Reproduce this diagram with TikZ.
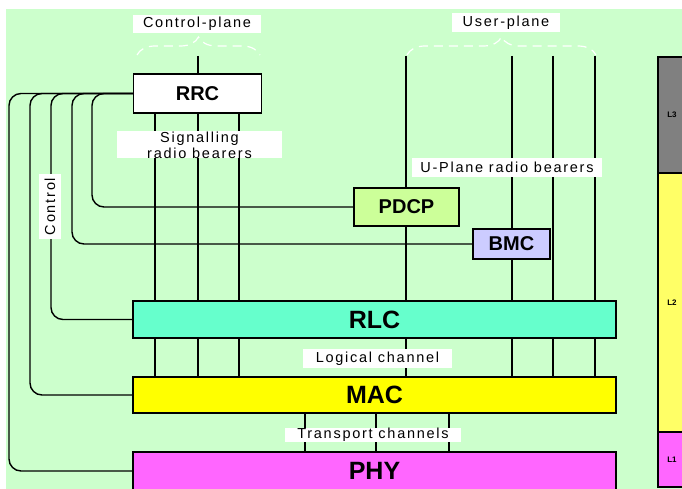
\documentclass[tikz,border=0pt]{standalone}
\usepackage{fontspec}
\setmainfont{Liberation Sans}
\newfontfamily\notelabelfont[LetterSpace=12]{Liberation Sans}
\usepackage{tikz}
\usetikzlibrary{decorations.pathreplacing, backgrounds, calc}
\definecolor{notebg}{RGB}{204, 255, 204}
\definecolor{noterlc}{RGB}{102, 255, 204}
\definecolor{notemac}{RGB}{255, 255, 0}
\definecolor{notephy}{RGB}{255, 102, 255}
\definecolor{notepdcp}{RGB}{204, 255, 153}
\definecolor{notebmc}{RGB}{204, 204, 255}
\definecolor{notegrey}{RGB}{128, 128, 128}
\definecolor{noteyellow}{RGB}{255, 255, 102}

\tikzset{
  smallbox/.style={draw, inner sep=0pt, font=\bfseries\fontsize{20}{20}\selectfont},
  layerbox/.style={draw, inner sep=0pt, minimum width=483pt, font=\bfseries\fontsize{25}{25}\selectfont},
  levelbox/.style={draw, inner sep=0pt, minimum width=28pt, font=\bfseries\fontsize{8}{8}\selectfont},
  notelabel/.style={fill=white, inner sep=0pt, align=center, font=\notelabelfont\fontsize{14.5}{16}\selectfont},
  bracedash/.style={white, line width=1.2pt, dash pattern=on 9pt off 6pt, decorate, decoration={brace, amplitude=18pt}},
}

\begin{document}
\begin{tikzpicture}[x=1pt, y=-1pt, line width=1.4pt]
    \useasboundingbox (0,0) rectangle (682,489);
    % sfondo
    \begin{scope}[on background layer]
        \fill[white] (0,0) rectangle (682,489);
        \fill[notebg] (6,9) rectangle (682,489);
    \end{scope}

    % blocchi
    \node[smallbox, fill=white, minimum width=128pt, minimum height=39pt] (rrc) at (197.5,93.5) {RRC};
    \node[smallbox, fill=notepdcp, minimum width=105pt, minimum height=38pt] (pdcp) at (406.5,207) {PDCP};
    \node[smallbox, fill=notebmc, minimum width=77pt, minimum height=30pt] (bmc) at (511.5,244) {BMC};
    \node[layerbox, fill=noterlc, minimum height=37pt] (rlc) at (374.5,319.5) {RLC};
    \node[layerbox, fill=notemac, minimum height=36pt] (mac) at (374.5,395) {MAC};
    \node[layerbox, fill=notephy, minimum height=38pt] (phy) at (374.5,471) {PHY};

    % livelli
    \node[levelbox, fill=notegrey, minimum height=116pt] (l3) at (672,115) {L3};
    \node[levelbox, fill=noteyellow, minimum height=259pt] (l2) at (672,302.5) {L2};
    \node[levelbox, fill=notephy, minimum height=55pt] (l1) at (672,459.5) {L1};

    % piani
    \draw[bracedash] (137,55) -- (260,55);
    \draw[bracedash] (407,55) -- (596,55);
    \node[notelabel, minimum width=128pt, minimum height=18pt] (cplabel) at (197,24) {Control-plane};
    \node[notelabel, minimum width=108pt, minimum height=19pt] (uplabel) at (506,22.5) {User-plane};

    \coordinate (cp) at (198,56);
    \foreach \x/\n in {406/u1, 512/u2, 553/u3, 595/u4}
        \coordinate (\n) at (\x,56);

    % connessioni
    \begin{scope}[on background layer]
    \begin{scope}[line width=1.4pt]
        \draw (cp) -- (cp |- rrc.north);
        \foreach \x in {155,198,239} {
            \draw (\x,0 |- rrc.south) -- (\x,0 |- rlc.north);
            \draw (\x,0 |- rlc.south) -- (\x,0 |- mac.north);
        }
        \draw (u1) -- (u1 |- pdcp.north);
        \draw (u1 |- pdcp.south) -- (u1 |- rlc.north);
        \draw (u2) -- (u2 |- bmc.north);
        \draw (u2 |- bmc.south) -- (u2 |- rlc.north);
        \draw (u3) -- (u3 |- rlc.north);
        \draw (u4) -- (u4 |- rlc.north);
        \foreach \n in {u1,u2,u3,u4}
            \draw (\n |- rlc.south) -- (\n |- mac.north);
        \foreach \x in {305,376,449}
            \draw (\x,0 |- mac.south) -- (\x,0 |- phy.north);
        % controllo
        \foreach \x/\n in {92/pdcp, 72/bmc, 51/rlc, 30/mac, 9/phy}
            \draw[rounded corners=12pt] (rrc.west) -| (\x,0 |- \n.west) -- (\n.west);
    \end{scope}
    \end{scope}

    % etichette
    \node[notelabel, minimum width=165pt, minimum height=27pt] (srb) at (199.5,145) {Signalling\\radio bearers};
    \node[notelabel, rotate=90, minimum width=65pt, minimum height=22pt] (ctrl) at (50,206.5) {Control};
    \node[notelabel, minimum width=190pt, minimum height=19pt] (uprb) at (507,167.5) {U-Plane radio bearers};
    \node[notelabel, minimum width=149pt, minimum height=19pt] (logch) at (377.5,358.5) {Logical channel};
    \node[notelabel, minimum width=176pt, minimum height=14pt] (trch) at (373,435) {Transport channels};
\end{tikzpicture}
\end{document}
